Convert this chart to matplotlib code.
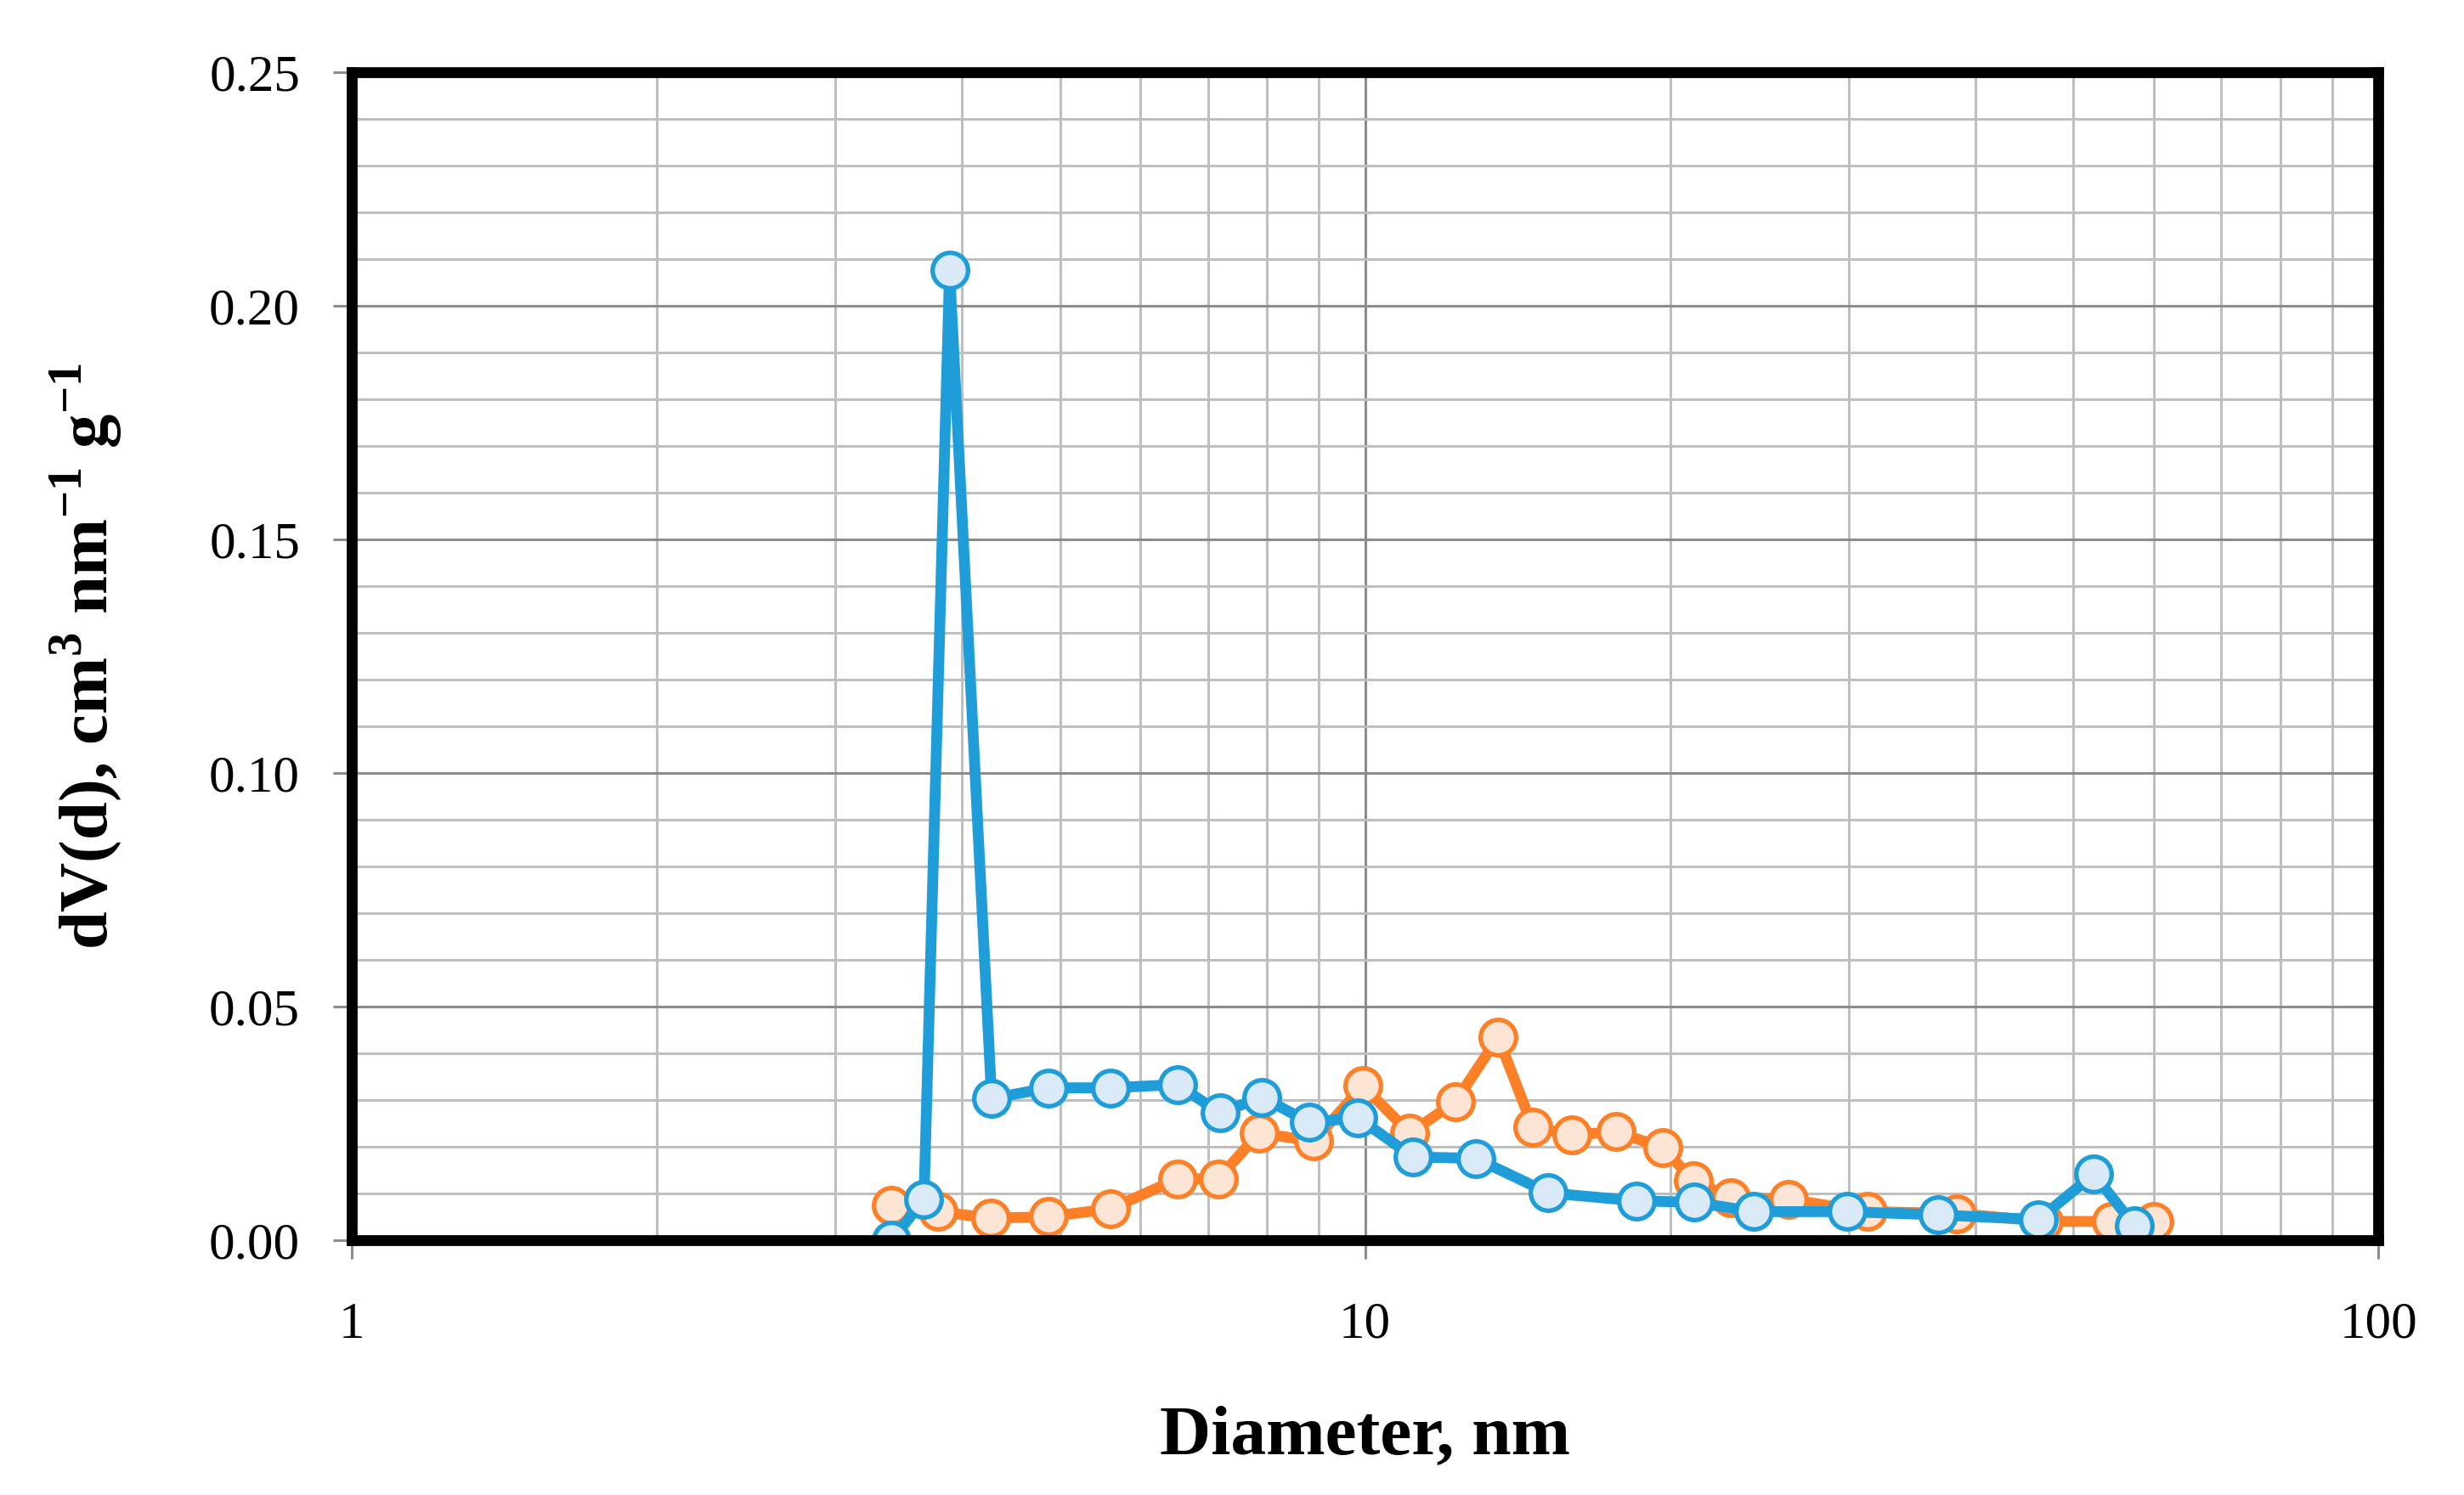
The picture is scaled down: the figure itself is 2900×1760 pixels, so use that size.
import matplotlib
matplotlib.use('Agg')
import matplotlib.pyplot as plt
from matplotlib.ticker import FixedLocator, FormatStrFormatter, LogLocator, NullFormatter

plt.rcParams['font.family'] = ['Liberation Serif', 'DejaVu Serif']
plt.rcParams['mathtext.fontset'] = 'custom'
plt.rcParams['mathtext.rm'] = 'Liberation Serif'
plt.rcParams['mathtext.bf'] = 'Liberation Serif:bold'

# datos
d_azul = [3.41, 3.67, 3.89, 4.28, 4.87, 5.61, 6.53, 7.19, 7.91, 8.81, 9.84,
          11.15, 12.86, 15.17, 18.53, 21.14, 24.2, 29.9, 36.8, 46.2, 52.4, 57.5]
dv_azul = [0.0, 0.0087, 0.2076, 0.0303, 0.0326, 0.0326, 0.0333, 0.0272, 0.0306,
           0.0252, 0.0262, 0.0178, 0.0175, 0.0101, 0.0084, 0.0081, 0.0061, 0.0061,
           0.0054, 0.0044, 0.0141, 0.0030]

d_naranja = [3.41, 3.79, 4.27, 4.87, 5.61, 6.53, 7.16, 7.86, 8.90, 9.95, 11.07,
             12.28, 13.53, 14.64, 16.0, 17.68, 19.68, 21.07, 22.95, 26.2, 31.3,
             38.4, 46.7, 54.5, 60.0]
dv_naranja = [0.0074, 0.0061, 0.0047, 0.0050, 0.0067, 0.0131, 0.0131, 0.0229,
              0.0212, 0.0330, 0.0229, 0.0296, 0.0434, 0.0242, 0.0225, 0.0232,
              0.0198, 0.0128, 0.0091, 0.0087, 0.0061, 0.0057, 0.0040, 0.0040, 0.0040]

y_ticks = [0.0, 0.05, 0.10, 0.15, 0.20, 0.25]
x_ticks = [1, 10, 100]

fig = plt.figure(figsize=(14.5, 8.8), dpi=200)
ax = fig.add_axes([0.1428, 0.1705, 0.8224, 0.7812])

ax.plot(d_naranja, dv_naranja, '-o', color='#fd7f26', lw=4.6,
        markersize=15, markerfacecolor='#fde5d6', markeredgecolor='#fd7f26',
        markeredgewidth=1.9, zorder=3)
ax.plot(d_azul, dv_azul, '-o', color='#1f9dd9', lw=4.6,
        markersize=15, markerfacecolor='#d9eaf6', markeredgecolor='#1f9dd9',
        markeredgewidth=1.9, zorder=4)

ax.set_xscale('log')
ax.set_xlim(1, 100)
ax.set_ylim(0, 0.25)

ax.xaxis.set_major_locator(FixedLocator(x_ticks))
ax.xaxis.set_major_formatter(FormatStrFormatter('%g'))
ax.xaxis.set_minor_locator(LogLocator(base=10, subs=range(2, 10)))
ax.xaxis.set_minor_formatter(NullFormatter())
ax.yaxis.set_major_locator(FixedLocator(y_ticks))
ax.yaxis.set_major_formatter(FormatStrFormatter('%.2f'))
ax.yaxis.set_minor_locator(FixedLocator([i * 0.01 for i in range(26)]))

ax.grid(which='major', color='#8c8c8c', lw=1.1)
ax.grid(which='minor', color='#bfbfbf', lw=1.1)
ax.set_axisbelow(True)

for s in ax.spines.values():
    s.set_linewidth(4.6)
    s.set_color('black')
    s.set_zorder(5)

ax.tick_params(which='major', length=8, width=1.1, color='#8c8c8c',
               labelsize=22, pad=14)
ax.tick_params(axis='x', which='major', pad=18)
ax.tick_params(which='minor', length=0)

ax.set_xlabel('Diameter, nm', fontsize=30, fontweight='bold', labelpad=24)
ax.set_ylabel(r'dV(d), cm$^{\mathbf{3}}$ nm$^{\mathbf{-1}}$ g$^{\mathbf{-1}}$',
              fontsize=29, fontweight='bold', labelpad=36)

fig.savefig('out.png', dpi=200)
